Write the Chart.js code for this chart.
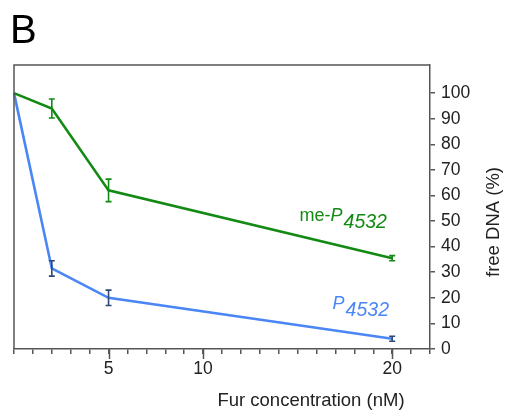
<!DOCTYPE html>
<html><head><meta charset="utf-8">
<script src="https://cdn.jsdelivr.net/npm/chart.js@4"></script>
<style>html,body{margin:0;padding:0;background:#fff;}canvas{display:block;}</style>
</head><body>
<canvas id="c" width="507" height="414"></canvas>
<script>
const concentrations = [0, 2, 5, 20];
const meP4532 = [100, 94, 62, 35.5];
const meP4532Err = [0, 3.7, 4.4, 1];
const P4532 = [100, 31.5, 20, 4];
const P4532Err = [0, 3, 3, 1];
const xLabelTicks = [5, 10, 20];
const yTicks = [0, 10, 20, 30, 40, 50, 60, 70, 80, 90, 100];

const GREEN = '#138a13';
const BLUE = '#4a86f5';
const BLUE_ERR = '#2d4a78';
const AXIS = '#555555';
const FONT = '"Liberation Sans", Arial, Helvetica, sans-serif';

const pts = (xs, ys) => xs.map((x, i) => ({x: x, y: ys[i]}));

const extras = {
  id: 'extras',
  afterDatasetsDraw(chart) {
    const ctx = chart.ctx, xs = chart.scales.x, ys = chart.scales.y, a = chart.chartArea;
    ctx.save();
    // frame (top and left)
    ctx.strokeStyle = AXIS; ctx.lineWidth = 1.5;
    ctx.beginPath();
    ctx.moveTo(a.left, a.bottom); ctx.lineTo(a.left, a.top); ctx.lineTo(a.right, a.top);
    ctx.stroke();
    // major ticks extension
    xLabelTicks.forEach(v => {
      const px = Math.round(xs.getPixelForValue(v)) + 0.5;
      ctx.beginPath(); ctx.moveTo(px, a.bottom); ctx.lineTo(px, a.bottom + 10); ctx.stroke();
    });
    // error bars
    const drawErr = (vals, errs, color) => {
      ctx.strokeStyle = color; ctx.lineWidth = 1.6;
      concentrations.forEach((c, i) => {
        if (!errs[i]) return;
        const px = xs.getPixelForValue(c);
        const y1 = ys.getPixelForValue(vals[i] + errs[i]);
        const y2 = ys.getPixelForValue(vals[i] - errs[i]);
        ctx.beginPath();
        ctx.moveTo(px, y1); ctx.lineTo(px, y2);
        ctx.moveTo(px - 3, y1); ctx.lineTo(px + 3, y1);
        ctx.moveTo(px - 3, y2); ctx.lineTo(px + 3, y2);
        ctx.stroke();
      });
    };
    drawErr(meP4532, meP4532Err, GREEN);
    drawErr(P4532, P4532Err, BLUE_ERR);
    // series labels
    const label = (pre, x, y, color) => {
      ctx.fillStyle = color; ctx.textBaseline = 'alphabetic'; ctx.textAlign = 'left';
      let px = xs.getPixelForValue(x), py = ys.getPixelForValue(y);
      if (pre) { ctx.font = '18px ' + FONT; ctx.fillText(pre, px, py); px += ctx.measureText(pre).width; }
      ctx.font = 'italic 18px ' + FONT; ctx.fillText('P', px, py); px += ctx.measureText('P').width + 1;
      ctx.font = 'italic 19.5px ' + FONT; ctx.fillText('4532', px, py + 7);
    };
    label('me-', 15.1, 50, GREEN);
    label('', 16.85, 15.6, BLUE);
    // axis titles
    ctx.fillStyle = '#222'; ctx.font = '18.5px ' + FONT;
    ctx.textAlign = 'center'; ctx.textBaseline = 'alphabetic';
    ctx.fillText('Fur concentration (nM)', 311, 406);
    ctx.save();
    ctx.translate(499, 222); ctx.rotate(-Math.PI / 2);
    ctx.fillText('free DNA (%)', 0, 0);
    ctx.restore();
    // panel letter
    ctx.fillStyle = '#000'; ctx.font = '40px ' + FONT; ctx.textAlign = 'left';
    ctx.fillText('B', 10, 43);
    ctx.restore();
  }
};

new Chart(document.getElementById('c'), {
  type: 'line',
  data: {
    datasets: [
      {data: pts(concentrations, meP4532), borderColor: GREEN, borderWidth: 2.6, pointRadius: 0, tension: 0, clip: false},
      {data: pts(concentrations, P4532), borderColor: BLUE, borderWidth: 2.6, pointRadius: 0, tension: 0, clip: false}
    ]
  },
  options: {
    responsive: false, animation: false, devicePixelRatio: 1,
    layout: {padding: {left: 14, top: 65, right: 0, bottom: 0}},
    plugins: {legend: {display: false}, tooltip: {enabled: false}},
    scales: {
      x: {
        type: 'linear', min: 0, max: 22,
        afterFit(s) { s.height = 65; },
        grid: {drawOnChartArea: false, drawTicks: true, tickLength: 5, color: AXIS, lineWidth: 1.5},
        border: {color: AXIS, width: 1.5},
        ticks: {stepSize: 1, autoSkip: false, maxRotation: 0, padding: 5, color: '#222',
          font: {family: FONT, size: 17.5},
          callback: v => xLabelTicks.includes(v) ? String(v) : ''}
      },
      y: {
        position: 'right', min: 0, max: 111,
        afterFit(s) { s.width = 77; },
        afterBuildTicks(s) { s.ticks = yTicks.map(v => ({value: v})); },
        grid: {drawOnChartArea: false, drawTicks: true, tickLength: 5, color: AXIS, lineWidth: 1.5},
        border: {color: AXIS, width: 1.5},
        ticks: {padding: 6, color: '#222', font: {family: FONT, size: 17.5}}
      }
    }
  },
  plugins: [extras]
});
</script>
</body></html>
